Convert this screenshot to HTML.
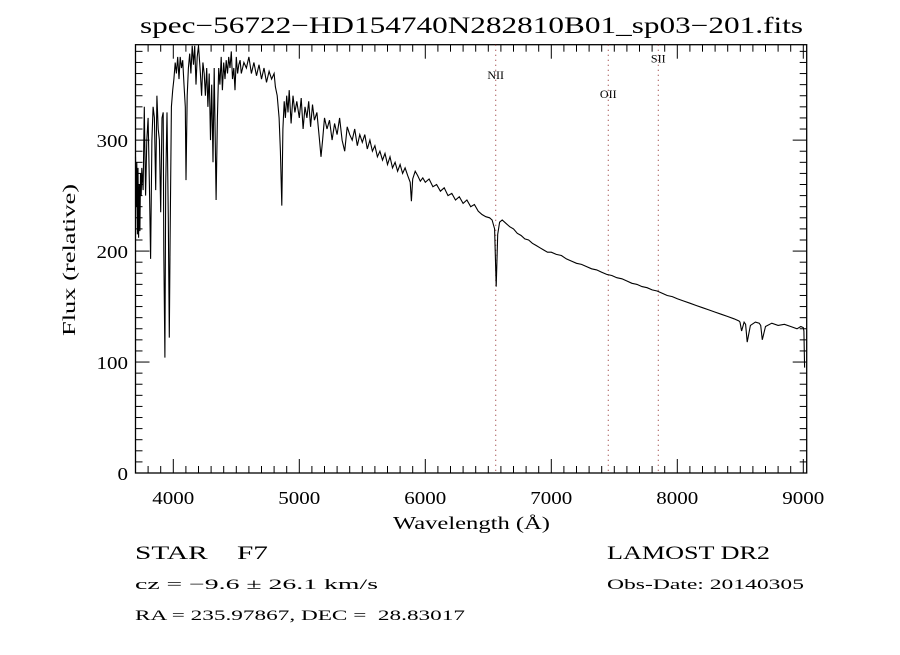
<!DOCTYPE html>
<html><head><meta charset="utf-8"><style>
body{margin:0;background:#fff;width:900px;height:650px;overflow:hidden}
svg text{font-family:"Liberation Serif",serif;fill:#000}
</style></head><body>
<svg id="chart" width="900" height="650">
<text x="140" y="33" font-size="23" textLength="663" lengthAdjust="spacingAndGlyphs">spec−56722−HD154740N282810B01_sp03−201.fits</text>
<g id="plot"></g>
<text x="393" y="529" font-size="18" textLength="157" lengthAdjust="spacingAndGlyphs">Wavelength (Å)</text>
<text transform="translate(75,336) rotate(-90)" font-size="18" textLength="152" lengthAdjust="spacingAndGlyphs">Flux (relative)</text>
<text x="135" y="559" font-size="19" textLength="133" lengthAdjust="spacingAndGlyphs" xml:space="preserve">STAR    F7</text>
<text x="135" y="589" font-size="15" textLength="243" lengthAdjust="spacingAndGlyphs">cz = −9.6 ± 26.1 km/s</text>
<text x="135" y="620" font-size="15" textLength="330" lengthAdjust="spacingAndGlyphs" xml:space="preserve">RA = 235.97867, DEC =  28.83017</text>
<text x="607" y="559" font-size="19" textLength="163" lengthAdjust="spacingAndGlyphs">LAMOST DR2</text>
<text x="607" y="589" font-size="15" textLength="197" lengthAdjust="spacingAndGlyphs">Obs-Date: 20140305</text>
</svg>
<script>
const waves=[3700,3705,3710,3715,3720,3725,3730,3735,3740,3745,3750,3760,3770,3775,3780,3790,3800,3810,3820,3830,3840,3850,3860,3870,3880,3890,3900,3910,3920,3925,3933,3940,3950,3960,3968,3975,3985,3995,4005,4015,4025,4035,4045,4055,4065,4075,4085,4095,4101,4110,4120,4130,4140,4150,4160,4170,4180,4190,4200,4215,4225,4235,4245,4255,4265,4275,4285,4295,4305,4315,4325,4340,4350,4360,4370,4380,4390,4400,4410,4420,4430,4440,4450,4460,4470,4480,4490,4500,4510,4520,4530,4540,4550,4560,4580,4600,4620,4640,4660,4680,4700,4720,4740,4760,4780,4800,4810,4825,4840,4850,4861,4870,4880,4890,4900,4910,4920,4935,4950,4965,4980,5000,5015,5030,5045,5060,5075,5090,5105,5120,5140,5160,5172,5185,5200,5220,5240,5260,5280,5300,5320,5340,5360,5380,5400,5420,5440,5460,5480,5500,5520,5540,5560,5580,5600,5620,5640,5660,5680,5700,5720,5740,5760,5780,5800,5820,5840,5860,5880,5890,5900,5920,5940,5960,5980,6000,6030,6060,6090,6120,6150,6180,6210,6240,6270,6300,6330,6360,6390,6420,6450,6480,6510,6530,6550,6563,6575,6590,6610,6640,6670,6700,6730,6760,6790,6820,6850,6880,6910,6940,6970,7000,7040,7080,7120,7160,7200,7240,7280,7320,7360,7400,7440,7480,7520,7560,7600,7640,7680,7720,7760,7800,7840,7880,7920,7960,8000,8050,8100,8150,8200,8250,8300,8350,8400,8450,8490,8498,8510,8530,8542,8555,8580,8620,8650,8662,8675,8700,8750,8800,8850,8900,8950,8980,9000,9005,9010];
const fluxes=[285,240,280,215,275,212,260,218,270,250,275,255,330,290,250,300,320,260,193,300,330,320,255,340,310,300,235,320,325,200,104,260,325,230,122,210,330,345,355,370,360,375,355,375,365,372,350,330,264,340,365,378,360,385,368,385,350,375,385,360,340,370,360,340,365,330,360,300,350,280,365,246,320,365,350,375,345,370,355,372,360,375,365,380,355,365,345,375,360,368,372,360,365,370,365,375,360,370,358,368,355,365,352,362,355,360,348,340,320,290,241,310,335,320,340,325,345,315,340,325,335,320,338,310,330,320,335,312,332,318,325,300,285,300,320,310,318,300,315,305,320,300,290,312,305,300,310,295,305,298,305,292,300,290,295,285,290,282,288,278,285,275,280,272,278,270,275,268,262,245,265,272,268,263,266,262,265,258,260,254,257,250,252,246,249,243,246,240,242,236,233,231,230,228,220,168,215,226,228,225,222,220,216,214,211,210,207,205,203,201,199,199,197,196,193,191,189,188,186,184,183,181,179,178,176,175,173,171,170,168,167,165,164,162,160,159,157,155,153,151,149,147,145,143,141,139,137,136,128,136,134,118,133,136,135,133,120,132,135,133,134,132,130,132,131,128,95,72];
const xTicks=[4000,5000,6000,7000,8000,9000];
const yTicks=[0,100,200,300];
const lineNames=["NII","OII","SII"];
const lineWaves=[6559,7452,7849];
const lineLabelFlux=[355,338,370];

const X0=135.5,X1=806.7,Y0=473,Y1=44.7,XMIN=3700,XMAX=9027,YMIN=0,YMAX=386;
const xs=w=>X0+(w-XMIN)/(XMAX-XMIN)*(X1-X0);
const ys=f=>Y0-(f-YMIN)/(YMAX-YMIN)*(Y0-Y1);
const NS="http://www.w3.org/2000/svg";
const g=document.getElementById('plot');
function mk(t,a){const e=document.createElementNS(NS,t);for(const k in a)e.setAttribute(k,a[k]);g.appendChild(e);return e;}

const frame=mk('rect',{x:X0,y:Y1,width:X1-X0,height:Y0-Y1,fill:'none',stroke:'#000','stroke-width':1.3});



for(let w=3700;w<=XMAX;w+=100){const x=xs(w);const L=(w%1000===0)?14:7;
 mk('line',{x1:x,y1:Y0,x2:x,y2:Y0-L,stroke:'#000','stroke-width':1});
 mk('line',{x1:x,y1:Y1,x2:x,y2:Y1+L,stroke:'#000','stroke-width':1});}
for(let f=0;f<=YMAX;f+=10){const y=ys(f);const L=(f%100===0)?14:7;
 mk('line',{x1:X0,y1:y,x2:X0+L,y2:y,stroke:'#000','stroke-width':1});
 mk('line',{x1:X1,y1:y,x2:X1-L,y2:y,stroke:'#000','stroke-width':1});}
xTicks.forEach(w=>{const t=mk('text',{x:xs(w)-21,y:Y0+31,'font-size':18,textLength:42,lengthAdjust:'spacingAndGlyphs'});t.textContent=w;
 
 });
yTicks.forEach(f=>{const s=String(f);const w=s.length*10.5;
 const t=mk('text',{x:128-w,y:ys(f)+7,'font-size':18,textLength:w,lengthAdjust:'spacingAndGlyphs'});t.textContent=s;
 
 });
lineNames.forEach((n,i)=>{const x=xs(lineWaves[i]);
 const l=mk('line',{x1:x,y1:Y1,x2:x,y2:Y0,stroke:'#8b2020','stroke-width':1,'stroke-dasharray':'1,4'});
 
 
 const t=mk('text',{x:x,y:ys(lineLabelFlux[i]),'font-size':12,'text-anchor':'middle'});t.textContent=n;
 
 });
const pts=waves.map((w,i)=>xs(w).toFixed(1)+','+ys(fluxes[i]).toFixed(1)).join(' ');
const p=mk('polyline',{points:pts,fill:'none',stroke:'#000','stroke-width':1.1});


</script>
</body></html>
